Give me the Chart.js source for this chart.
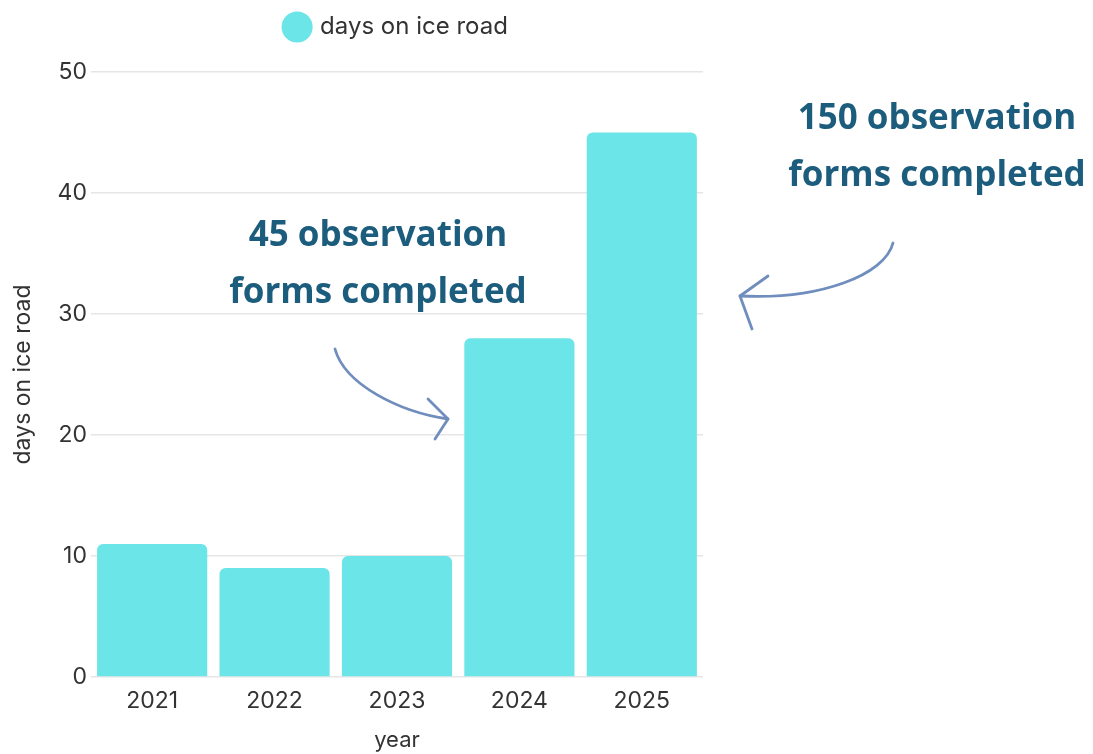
<!DOCTYPE html>
<html>
<head>
<meta charset="utf-8">
<script src="https://cdn.jsdelivr.net/npm/chart.js@4/dist/chart.umd.min.js"></script>
<style>
  html, body { margin: 0; padding: 0; background: #fff; }
  #wrap { width: 1093px; height: 754px; position: relative; }
</style>
</head>
<body>
<div id="wrap"><canvas id="chart"></canvas></div>
<script>
// datos
const years = ['2021', '2022', '2023', '2024', '2025'];
const daysOnIceRoad = [11, 9, 10, 28, 45];
const seriesLabel = 'days on ice road';
const yTicks = [0, 10, 20, 30, 40, 50];
const noteMid = ['45 observation', 'forms completed'];
const noteRight = ['150 observation', 'forms completed'];

const barColor = '#6ce5e8';
const noteColor = '#1c5d7d';
const arrowColor = '#6f8dbd';
const fontFam = 'Inter, "Noto Sans", sans-serif';

// espacio extra debajo de la leyenda
Chart.register({
  id: 'legendGap',
  beforeInit(chart) {
    const origFit = chart.legend.fit;
    chart.legend.fit = function () {
      origFit.bind(this)();
      this.height += 23;
    };
  }
});

// anotaciones y flechas
Chart.register({
  id: 'notesAndArrows',
  afterDraw(chart) {
    const ctx = chart.ctx;
    ctx.save();
    ctx.fillStyle = noteColor;
    ctx.font = 'bold 35px "Open Sans", "Noto Sans", sans-serif';
    ctx.textAlign = 'center';
    ctx.textBaseline = 'middle';
    ctx.fillText(noteMid[0], 378, 236);
    ctx.fillText(noteMid[1], 378, 293);
    ctx.fillText(noteRight[0], 937, 119);
    ctx.fillText(noteRight[1], 937, 176);

    ctx.strokeStyle = arrowColor;
    ctx.lineWidth = 2.8;
    ctx.lineCap = 'round';
    ctx.lineJoin = 'round';
    // flecha del medio
    ctx.beginPath();
    ctx.moveTo(335, 349);
    ctx.bezierCurveTo(345, 385, 400, 412, 448, 419);
    ctx.stroke();
    ctx.beginPath();
    ctx.moveTo(428, 399);
    ctx.lineTo(448, 419);
    ctx.lineTo(435, 439);
    ctx.stroke();
    // flecha derecha
    ctx.beginPath();
    ctx.moveTo(893, 243);
    ctx.bezierCurveTo(885, 275, 820, 300, 740, 296);
    ctx.stroke();
    ctx.beginPath();
    ctx.moveTo(768, 276);
    ctx.lineTo(740, 296);
    ctx.lineTo(752, 329);
    ctx.stroke();
    ctx.restore();
  }
});

const ctx = document.getElementById('chart').getContext('2d');
new Chart(ctx, {
  type: 'bar',
  data: {
    labels: years,
    datasets: [{
      label: seriesLabel,
      data: daysOnIceRoad,
      backgroundColor: barColor,
      borderRadius: { topLeft: 6, topRight: 6, bottomLeft: 0, bottomRight: 0 },
      borderSkipped: 'bottom',
      barPercentage: 0.9,
      categoryPercentage: 1.0
    }]
  },
  options: {
    responsive: true,
    maintainAspectRatio: false,
    animation: false,
    layout: { padding: { left: 9, right: 390, top: 0, bottom: 0 } },
    plugins: {
      legend: {
        fullSize: false,
        labels: {
          usePointStyle: true,
          pointStyle: 'circle',
          boxWidth: 22,
          boxHeight: 22,
          color: '#333',
          font: { family: fontFam, size: 24 },
          padding: 15
        }
      },
      tooltip: { enabled: false }
    },
    scales: {
      x: {
        grid: { display: false },
        border: { display: false },
        ticks: { color: '#333', font: { family: fontFam, size: 23 }, padding: 2 },
        title: { display: true, text: 'year', color: '#333', font: { family: fontFam, size: 22 }, padding: { top: 11, bottom: 0 } }
      },
      y: {
        min: 0,
        max: 50,
        afterBuildTicks(axis) { axis.ticks = yTicks.map(v => ({ value: v })); },
        grid: { color: '#e6e6e6', lineWidth: 1.5, drawTicks: false },
        border: { display: false },
        ticks: { color: '#333', font: { family: fontFam, size: 23 }, padding: 4 },
        title: { display: true, text: seriesLabel, color: '#333', font: { family: fontFam, size: 23 }, padding: { top: 0, bottom: 17 } }
      }
    }
  }
});
</script>
</body>
</html>
